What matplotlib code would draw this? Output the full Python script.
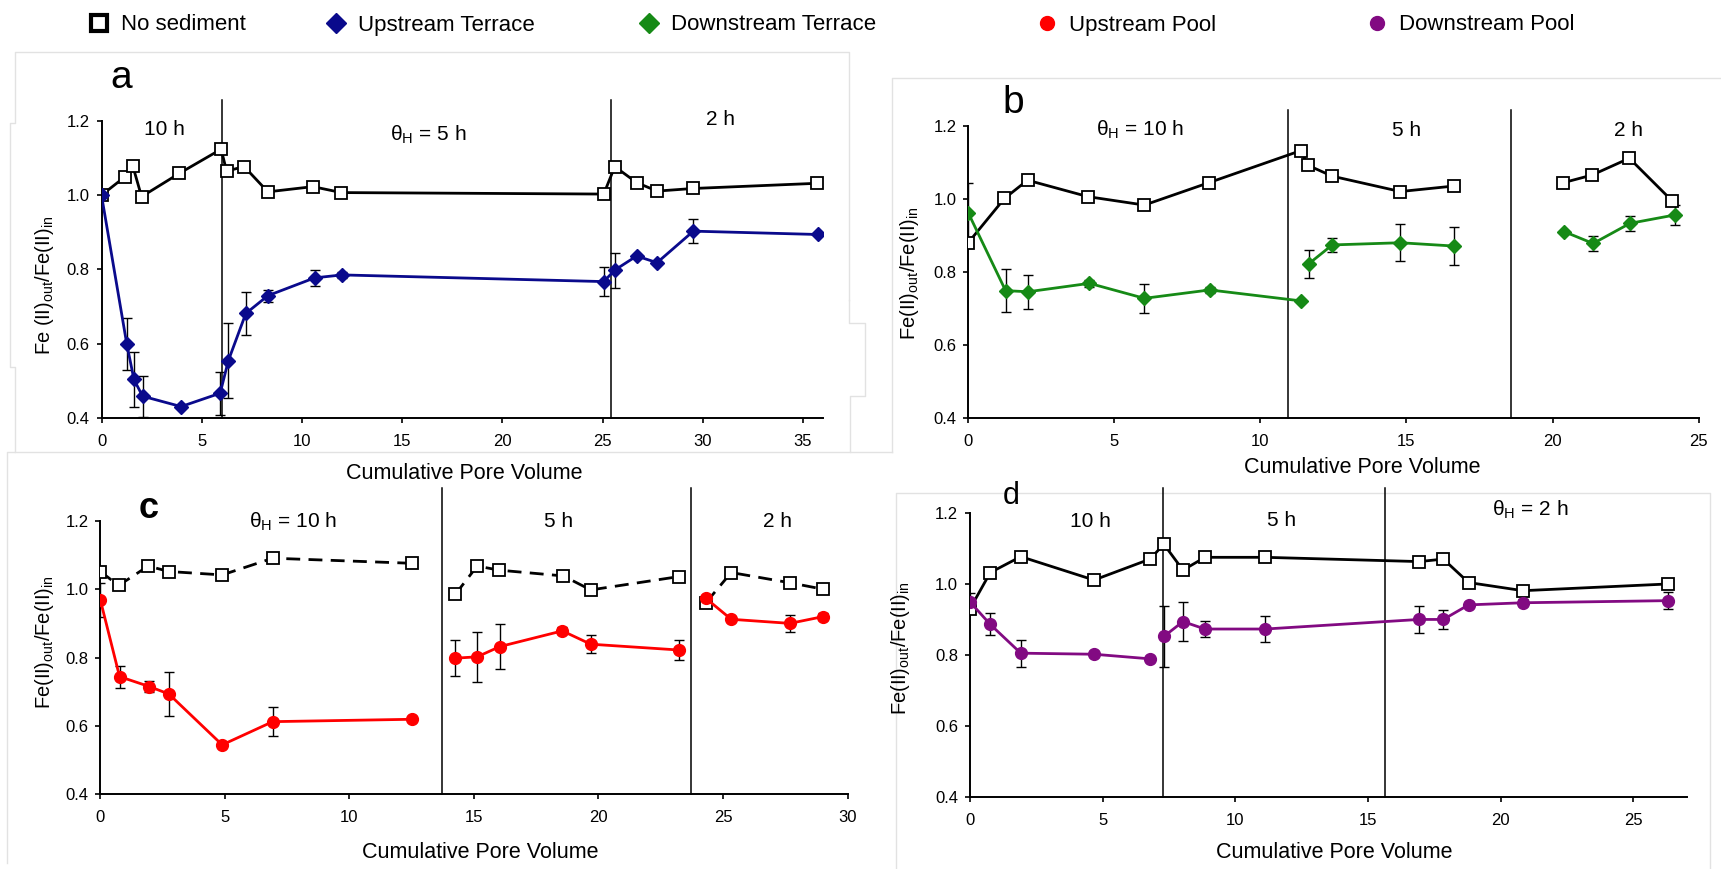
import matplotlib
matplotlib.use("Agg")
import matplotlib.pyplot as plt
from matplotlib.lines import Line2D

plt.rcParams['font.family'] = ['Liberation Sans', 'DejaVu Sans']
plt.rcParams['mathtext.fontset'] = 'custom'
plt.rcParams['mathtext.rm'] = 'Liberation Sans'
plt.rcParams['mathtext.it'] = 'Liberation Sans:italic'

W, H = 1721, 869

# --- a: upstream terrace ---
a_ctrl_x = [0, 1.18, 1.56, 2.0, 3.89, 5.97, 6.24, 7.12, 8.30, 10.55, 11.97, 25.06, 25.61, 26.7, 27.72, 29.5, 35.69]
a_ctrl_y = [1.00, 1.05, 1.079, 0.996, 1.059, 1.124, 1.065, 1.077, 1.009, 1.023, 1.007, 1.003, 1.077, 1.034, 1.011, 1.018, 1.032]
a_sed_x = [0, 1.26, 1.62, 2.05, 3.97, 5.92, 6.33, 7.2, 8.30, 10.63, 12.0, 25.06, 25.61, 26.7, 27.72, 29.53, 35.74]
a_sed_y = [1.000, 0.599, 0.503, 0.458, 0.430, 0.466, 0.554, 0.681, 0.729, 0.777, 0.785, 0.767, 0.798, 0.836, 0.818, 0.903, 0.894]
a_sed_err = [0, 0.07, 0.073, 0.055, 0, 0.058, 0.10, 0.058, 0.016, 0.022, 0.008, 0.04, 0.047, 0, 0, 0.033, 0]
a_ctrl_breaks = []
a_sed_breaks = []
a_switch = [6.0, 25.4]

# --- b: downstream terrace ---
b_ctrl_x = [0, 1.24, 2.03, 4.10, 6.03, 8.23, 11.39, 11.62, 12.46, 14.79, 16.62, 20.36, 21.35, 22.63, 24.10]
b_ctrl_y = [0.880, 1.001, 1.051, 1.006, 0.983, 1.044, 1.132, 1.092, 1.062, 1.020, 1.035, 1.044, 1.065, 1.111, 0.994]
b_sed_x = [0, 1.28, 2.05, 4.15, 6.03, 8.27, 11.39, 11.65, 12.46, 14.79, 16.62, 20.41, 21.39, 22.65, 24.19]
b_sed_y = [0.962, 0.749, 0.746, 0.769, 0.728, 0.751, 0.721, 0.822, 0.874, 0.880, 0.871, 0.910, 0.878, 0.933, 0.956]
b_sed_err = [0.08, 0.058, 0.046, 0.01, 0.04, 0.008, 0, 0.039, 0.019, 0.05, 0.051, 0, 0.02, 0.02, 0.027]
b_ctrl_breaks = [11]
b_sed_breaks = [7, 11]
b_switch = [10.94, 18.57]

# --- c: upstream pool ---
c_ctrl_x = [0, 0.73, 1.92, 2.75, 4.89, 6.92, 12.53, 14.25, 15.13, 16.01, 18.59, 19.69, 23.22, 24.32, 25.33, 27.69, 29.03]
c_ctrl_y = [1.052, 1.011, 1.068, 1.052, 1.042, 1.091, 1.076, 0.985, 1.068, 1.056, 1.039, 0.998, 1.037, 0.961, 1.049, 1.019, 1.000]
c_sed_x = [0, 0.77, 1.96, 2.75, 4.89, 6.92, 12.53, 14.25, 15.13, 16.04, 18.55, 19.69, 23.22, 24.32, 25.33, 27.69, 29.03]
c_sed_y = [0.968, 0.744, 0.715, 0.693, 0.544, 0.612, 0.619, 0.798, 0.802, 0.832, 0.878, 0.839, 0.822, 0.973, 0.912, 0.900, 0.920]
c_sed_err = [0.05, 0.032, 0.016, 0.065, 0, 0.042, 0, 0.052, 0.074, 0.067, 0.01, 0.027, 0.029, 0, 0, 0.024, 0.01]
c_ctrl_breaks = [7, 13]
c_sed_breaks = [7, 13]
c_switch = [13.7, 23.72]

# --- d: downstream pool ---
d_ctrl_x = [0, 0.77, 1.92, 4.68, 6.79, 7.31, 8.03, 8.86, 11.13, 16.93, 17.84, 18.79, 20.84, 26.32]
d_ctrl_y = [0.930, 1.033, 1.078, 1.012, 1.071, 1.113, 1.040, 1.076, 1.076, 1.064, 1.071, 1.005, 0.982, 1.001]
d_sed_x = [0, 0.77, 1.92, 4.68, 6.79, 7.31, 8.03, 8.86, 11.13, 16.93, 17.84, 18.79, 20.84, 26.32]
d_sed_y = [0.951, 0.887, 0.806, 0.803, 0.790, 0.853, 0.895, 0.874, 0.874, 0.901, 0.901, 0.942, 0.948, 0.954]
d_sed_err = [0.025, 0.031, 0.038, 0.008, 0.005, 0.087, 0.054, 0.023, 0.037, 0.037, 0.027, 0.007, 0.01, 0.023]
d_ctrl_breaks = []
d_sed_breaks = [5]
d_switch = [7.28, 15.66]

series_names = ['No sediment', 'Upstream Terrace', 'Downstream Terrace', 'Upstream Pool', 'Downstream Pool']
series_colors = ['black', '#0a0a8c', '#168a16', '#ff0000', '#820a82']
series_markers = ['s', 'D', 'D', 'o', 'o']

TH = '\u03b8$_{\\rm H}$'


def px_box(x0, y0, x1, y1):
    # figure-fraction box from pixel corners (top-left origin)
    return [x0 / W, 1 - y1 / H, (x1 - x0) / W, (y1 - y0) / H]


def split(vals, breaks):
    edges = [0] + list(breaks) + [len(vals)]
    return [vals[edges[i]:edges[i + 1]] for i in range(len(edges) - 1)]


def draw_ctrl(ax, x, y, breaks, dashed=False):
    for xs, ys in zip(split(x, breaks), split(y, breaks)):
        ax.plot(xs, ys, color='black', lw=2.0, marker='s', ms=8.5, mfc='white',
                mec='black', mew=1.3, zorder=4,
                dashes=(5, 3) if dashed else (None, None))


def draw_sed(ax, x, y, err, breaks, color, marker, ms):
    for xs, ys, es in zip(split(x, breaks), split(y, breaks), split(err, breaks)):
        ax.errorbar(xs, ys, yerr=es, fmt='none', ecolor='black', elinewidth=1.0,
                    capsize=3.5, capthick=1.0, zorder=3)
        ax.plot(xs, ys, color=color, lw=2.0, marker=marker, ms=ms, mfc=color,
                mec=color, zorder=5)


def setup(ax, xmax, xticks, switches, vtop):
    ax.set_xlim(0, xmax)
    ax.set_ylim(0.4, 1.2)
    ax.set_xticks(xticks)
    ax.set_yticks([0.4, 0.6, 0.8, 1.0, 1.2])
    ax.set_yticklabels(['0.4', '0.6', '0.8', '1.0', '1.2'])
    for s in ['top', 'right']:
        ax.spines[s].set_visible(False)
    for s in ['left', 'bottom']:
        ax.spines[s].set_linewidth(1.4)
    ax.tick_params(axis='both', direction='out', length=3.5, width=1.2, labelsize=12)
    ax.tick_params(axis='x', pad=8)
    ax.tick_params(axis='y', pad=5)
    ax.patch.set_alpha(0)
    for sx in switches:
        ax.axvline(sx, ymin=0, ymax=vtop, color='black', lw=1.1, clip_on=False, zorder=2)


fig = plt.figure(figsize=(W / 100, H / 100), dpi=100)

# faint borders of the pasted chart areas, as pixel polylines
borders = [
    [(849, 300), (849, 52), (15, 52), (15, 123), (10, 123), (10, 367), (15, 367), (15, 452), (6.7, 452), (6.7, 863)],
    [(849, 300), (849, 323), (865, 323), (865, 396), (850, 396), (850, 452), (892, 452)],
    [(15, 452), (850, 452)],
    [(892, 452), (892, 78), (1721, 78)],
    [(896, 869), (896, 493), (1710, 493), (1710, 869)],
]
for pts in borders:
    fig.add_artist(Line2D([p[0] / W for p in pts], [1 - p[1] / H for p in pts],
                          color='#e2e2e2', lw=1.0, transform=fig.transFigure, zorder=0))

ax_a = fig.add_axes(px_box(101.5, 121, 823, 417.7))
ax_b = fig.add_axes(px_box(968.2, 125.7, 1698.6, 418.3))
ax_c = fig.add_axes(px_box(100.4, 521, 847.5, 794))
ax_d = fig.add_axes(px_box(969.8, 513.3, 1686.5, 797.3))

# a
setup(ax_a, 36, range(0, 36, 5), a_switch, 1.07)
draw_ctrl(ax_a, a_ctrl_x, a_ctrl_y, a_ctrl_breaks)
draw_sed(ax_a, a_sed_x, a_sed_y, a_sed_err, a_sed_breaks, series_colors[1], 'D', 7.5)
ax_a.text(3.15, 1.176, '10 h', fontsize=15, ha='center', va='center')
ax_a.text(16.3, 1.162, TH + ' = 5 h', fontsize=15, ha='center', va='center')
ax_a.text(30.9, 1.203, '2 h', fontsize=15, ha='center', va='center')

# b
setup(ax_b, 25, range(0, 26, 5), b_switch, 1.054)
draw_ctrl(ax_b, b_ctrl_x, b_ctrl_y, b_ctrl_breaks)
draw_sed(ax_b, b_sed_x, b_sed_y, b_sed_err, b_sed_breaks, series_colors[2], 'D', 7.5)
ax_b.text(5.88, 1.188, TH + ' = 10 h', fontsize=15, ha='center', va='center')
ax_b.text(15.0, 1.188, '5 h', fontsize=15, ha='center', va='center')
ax_b.text(22.6, 1.188, '2 h', fontsize=15, ha='center', va='center')

# c
setup(ax_c, 30, range(0, 31, 5), c_switch, 1.12)
draw_ctrl(ax_c, c_ctrl_x, c_ctrl_y, c_ctrl_breaks, dashed=True)
draw_sed(ax_c, c_sed_x, c_sed_y, c_sed_err, c_sed_breaks, series_colors[3], 'o', 8.5)
ax_c.text(7.75, 1.198, TH + ' = 10 h', fontsize=15, ha='center', va='center')
ax_c.text(18.4, 1.198, '5 h', fontsize=15, ha='center', va='center')
ax_c.text(27.2, 1.198, '2 h', fontsize=15, ha='center', va='center')

# d
setup(ax_d, 27, range(0, 26, 5), d_switch, 1.09)
draw_ctrl(ax_d, d_ctrl_x, d_ctrl_y, d_ctrl_breaks)
draw_sed(ax_d, d_sed_x, d_sed_y, d_sed_err, d_sed_breaks, series_colors[4], 'o', 8.5)
ax_d.text(4.55, 1.176, '10 h', fontsize=15, ha='center', va='center')
ax_d.text(11.75, 1.18, '5 h', fontsize=15, ha='center', va='center')
ax_d.text(21.1, 1.21, TH + ' = 2 h', fontsize=15, ha='center', va='center')

# panel letters, axis titles
fig.text(121 / W, 1 - 78 / H, 'a', fontsize=28, ha='center', va='center')
fig.text(1013 / W, 1 - 103 / H, 'b', fontsize=28, ha='center', va='center')
fig.text(149 / W, 1 - 509 / H, 'c', fontsize=26, fontweight='bold', ha='center', va='center')
fig.text(1011 / W, 1 - 496 / H, 'd', fontsize=22, ha='center', va='center')

xlab = 'Cumulative Pore Volume'
for (cx, cy) in [(464, 474), (1362, 468), (480, 853), (1334, 853)]:
    fig.text(cx / W, 1 - cy / H, xlab, fontsize=15.5, ha='center', va='center')

ylab_a = 'Fe (II)$_{\\rm out}$/Fe(II)$_{\\rm in}$'
ylab = 'Fe(II)$_{\\rm out}$/Fe(II)$_{\\rm in}$'
for (cx, cy, t) in [(44, 285, ylab_a), (909, 273, ylab), (44, 642, ylab), (901, 648, ylab)]:
    fig.text(cx / W, 1 - cy / H, t, fontsize=14.5, rotation=90, ha='center', va='center')

# legend row along the top
leg_x = [90, 327, 640, 1038, 1368]
for name, col, mk, lx in zip(series_names, series_colors, series_markers, leg_x):
    if mk == 's':
        h = Line2D([], [], ls='none', marker='s', ms=11, mfc='white', mec='black', mew=3)
    else:
        h = Line2D([], [], ls='none', marker=mk, ms=10, mfc=col, mec=col)
    fig.legend(handles=[h], labels=[name], loc='center left', frameon=False,
               bbox_to_anchor=(lx / W, 1 - 25 / H), fontsize=16,
               handlelength=0.8, handletextpad=0.6, borderpad=0, borderaxespad=0)

fig.savefig('out.png', dpi=100)
